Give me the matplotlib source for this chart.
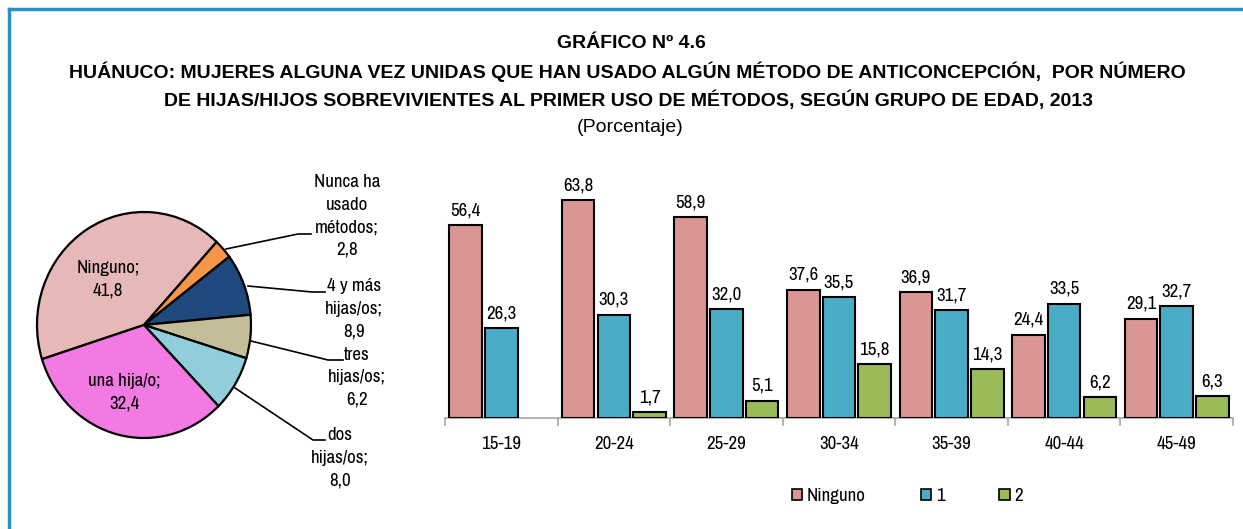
import matplotlib
matplotlib.use("Agg")
import matplotlib.pyplot as plt
from matplotlib import font_manager
from matplotlib.patches import Patch
import numpy as np

names = {f.name for f in font_manager.fontManager.ttflist}
NARROW_CANDIDATES = ["Liberation Sans Narrow", "Arial Narrow", "Archivo Narrow", "PT Sans Narrow",
                     "Roboto Condensed", "Pragati Narrow", "Sofia Sans Condensed", "Fira Sans Condensed",
                     "IBM Plex Sans Condensed", "Encode Sans Condensed", "Barlow Semi Condensed"]
NARROW = next((n for n in NARROW_CANDIDATES if n in names), None)
if NARROW:
    LFONT = [NARROW, "Liberation Sans", "DejaVu Sans"]
    LSIZE = 13.6
    LSPACE = 1.5
else:
    LFONT = ["Liberation Sans", "DejaVu Sans"]
    LSIZE = 11.5
    LSPACE = 1.45
TFONT = ["Liberation Sans", "DejaVu Sans"]
plt.rcParams['font.family'] = LFONT

# ---- data ----
pie_labels = ["Ninguno", "Nunca ha\nusado\nmétodos", "4 y más\nhijas/os", "tres\nhijas/os",
              "dos\nhijas/os", "una hija/o"]
pie_values = [41.8, 2.8, 8.9, 6.2, 8.0, 32.4]
pie_colors = ["#E6B8B7", "#F79646", "#1F497D", "#C4BD97", "#92CDDC", "#F47AE3"]

age_groups = ["15-19", "20-24", "25-29", "30-34", "35-39", "40-44", "45-49"]
series_names = ["Ninguno", "1", "2"]
ninguno = [56.4, 63.8, 58.9, 37.6, 36.9, 24.4, 29.1]
uno = [26.3, 30.3, 32.0, 35.5, 31.7, 33.5, 32.7]
dos = [None, 1.7, 5.1, 15.8, 14.3, 6.2, 6.3]
bar_colors = ["#DA9694", "#4BACC6", "#9BBB59"]

W, H = 1243, 529
fig = plt.figure(figsize=(W / 100, H / 100), dpi=100)

def fx(px):
    return px / W

def fy(py):
    return 1 - py / H

# frame (top and left blue lines)
fig.add_artist(plt.Line2D([fx(9), 1.0], [fy(9), fy(9)], color="#2A93C6", lw=2.5))
fig.add_artist(plt.Line2D([fx(9), fx(9)], [fy(9), 0.0], color="#2A93C6", lw=2.5))

# titles
fig.text(fx(631), fy(43), "GRÁFICO Nº 4.6", ha="center", va="center", fontsize=14, fontweight="bold", family=TFONT)
fig.text(fx(627), fy(72), "HUÁNUCO: MUJERES ALGUNA VEZ UNIDAS QUE HAN USADO ALGÚN MÉTODO DE ANTICONCEPCIÓN,  POR NÚMERO",
         ha="center", va="center", fontsize=14, fontweight="bold", family=TFONT)
fig.text(fx(628), fy(100), "DE HIJAS/HIJOS SOBREVIVIENTES AL PRIMER USO DE MÉTODOS, SEGÚN GRUPO DE EDAD, 2013",
         ha="center", va="center", fontsize=14, fontweight="bold", family=TFONT)
fig.text(fx(630), fy(128), "(Porcentaje)", ha="center", va="center", fontsize=14, family=TFONT)

# ---- pie ----
cx, cy, rx, ry = 144, 325, 107, 113
axp = fig.add_axes([fx(cx - rx), fy(cy + ry), 2 * rx / W, 2 * ry / H])
wedges, _ = axp.pie(pie_values, colors=pie_colors, startangle=197.6, counterclock=False,
                    wedgeprops=dict(edgecolor="black", linewidth=1.6), radius=1.0)
axp.set_aspect("auto")
axp.set_xlim(-1.0, 1.0)
axp.set_ylim(-1.0, 1.0)
axp.axis("off")

def txt(px, py, s):
    fig.text(fx(px), fy(py), s, ha="center", va="center", fontsize=LSIZE, linespacing=LSPACE)

def fmt(v):
    return f"{v:.1f}".replace(".", ",")

txt(108, 279, f"{pie_labels[0]};\n{fmt(pie_values[0])}")
txt(124, 392, f"{pie_labels[5]};\n{fmt(pie_values[5])}")
txt(347, 216, f"{pie_labels[1]};\n{fmt(pie_values[1])}")
txt(354, 309, f"{pie_labels[2]};\n{fmt(pie_values[2])}")
txt(357, 377, f"{pie_labels[3]};\n{fmt(pie_values[3])}")
txt(340, 458, f"{pie_labels[4]};\n{fmt(pie_values[4])}")

def leader(pts):
    xs = [fx(p[0]) for p in pts]
    ys = [fy(p[1]) for p in pts]
    fig.add_artist(plt.Line2D(xs, ys, color="black", lw=1.2))

leader([(226, 249), (298, 234), (311, 234)])
leader([(248, 286), (312, 292), (325, 292)])
leader([(251, 341), (328, 360), (343, 360)])
leader([(235, 388), (313, 440), (325, 440)])

# ---- bars ----
axb = fig.add_axes([fx(445), fy(418), fx(1233) - fx(445), fy(179) - fy(418)])
x = np.arange(len(age_groups))
bw = 0.29
offs = [-0.317, 0.0, 0.317]
for series, col, off in zip([ninguno, uno, dos], bar_colors, offs):
    xs = [xi + off for xi, v in zip(x, series) if v is not None]
    vs = [v for v in series if v is not None]
    axb.bar(xs, vs, width=bw, color=col, edgecolor="black", linewidth=1.5, zorder=3)
    for xi, v in zip(xs, vs):
        axb.annotate(fmt(v), (xi, v), xytext=(0, 7), textcoords="offset points",
                     ha="center", va="baseline", fontsize=LSIZE)

axb.set_xlim(-0.5, len(age_groups) - 0.5)
axb.set_ylim(0, 70)
for s in ["top", "right", "left"]:
    axb.spines[s].set_visible(False)
axb.spines["bottom"].set_color("#A6A6A6")
axb.spines["bottom"].set_linewidth(1.2)
axb.set_yticks([])
axb.set_xticks(np.arange(-0.5, len(age_groups), 1.0), minor=False)
axb.set_xticklabels([])
axb.tick_params(axis="x", which="major", length=6, color="#A6A6A6", width=1.2, direction="out")
axb.set_xticks(x, minor=True)
axb.set_xticklabels(age_groups, minor=True, fontsize=LSIZE)
axb.tick_params(axis="x", which="minor", length=0, pad=13)

# legend
handles = [Patch(facecolor=c, edgecolor="black", linewidth=1.2) for c in bar_colors]
leg = fig.legend(handles, series_names, loc="center left", bbox_to_anchor=(fx(792), fy(496)), ncol=3,
                 frameon=False, fontsize=LSIZE, handlelength=0.55, handleheight=0.55,
                 handletextpad=0.25, columnspacing=2.9, borderpad=0, borderaxespad=0)

fig.savefig("out.png", dpi=100)
